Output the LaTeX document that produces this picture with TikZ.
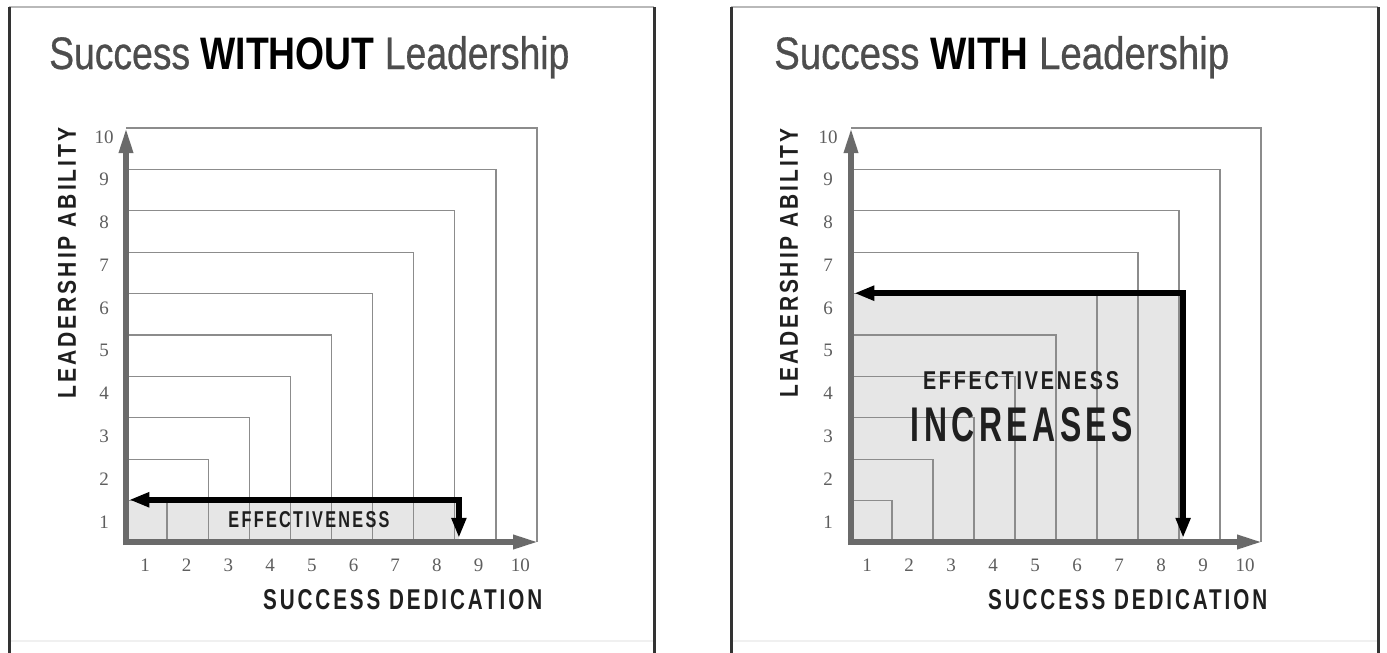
\documentclass[tikz,border=0pt]{standalone}
\usepackage{fontspec}
\usepackage{graphicx}
\setmainfont{Liberation Serif}
\newfontfamily\titlefont{Liberation Sans}
\newfontfamily\titlemed[FakeBold=0.7]{Liberation Sans}
\newfontfamily\labfont[LetterSpace=14]{Liberation Sans}
\usetikzlibrary{arrows.meta}
\definecolor{framecol}{HTML}{333333}
\definecolor{axisgray}{HTML}{6A6A6A}
\definecolor{sqgray}{HTML}{8C8C8C}
\definecolor{tickgray}{HTML}{5E5E5E}
\definecolor{titlegray}{HTML}{4D4D4D}
\definecolor{shadecol}{HTML}{E6E6E6}
\tikzset{
  panelside/.style={draw=framecol, line width=3pt},
  paneltop/.style={draw=gray!55, line width=1.5pt},
  panelbottom/.style={draw=gray!12, line width=1.5pt},
  sqline/.style={draw=sqgray, line width=1.3pt},
  axisline/.style={draw=axisgray, line width=6pt, -{Triangle[length=26pt,width=13pt]}},
  effarrow/.style={draw=black, line width=6pt, line join=miter,
     {Triangle[length=20pt,width=14pt]}-{Triangle[length=20pt,width=14pt]}},
  ticklab/.style={font=\fontsize{19}{19}\selectfont, text=tickgray, inner sep=0pt},
  biglab/.style={inner sep=0pt, text=black!88},
}
\begin{document}
\begin{tikzpicture}[x=1pt,y=-1pt]
\useasboundingbox (0,0) rectangle (1387,653);
\fill[white] (0,0) rectangle (1387,653);

% ---------- frames ----------
\draw[paneltop] (9,7) -- (654,7);
\draw[panelbottom] (9,641) -- (654,641);
\draw[panelside] (9,7) -- (9,653);
\draw[panelside] (654,7) -- (654,653);
\draw[paneltop] (731,7) -- (1378,7);
\draw[panelbottom] (731,641) -- (1378,641);
\draw[panelside] (731,7) -- (731,653);
\draw[panelside] (1378,7) -- (1378,653);

% ---------- titles ----------
\node[anchor=base west, inner sep=0pt] (t1) at (49,69)
  {\resizebox{520pt}{33pt}{\titlemed\color{titlegray}Success \textcolor{black}{\titlefont\bfseries WITHOUT} Leadership}};
\node[anchor=base west, inner sep=0pt] (t2) at (774,69)
  {\resizebox{455pt}{33pt}{\titlemed\color{titlegray}Success \textcolor{black}{\titlefont\bfseries WITH} Leadership}};

% ---------- left chart ----------
\begin{scope}[shift={(126pt,-542pt)}, x=41.1pt, y=41.4pt]
  \fill[shadecol] (0,0) rectangle (8.1,1.02);
  \foreach \n in {1,...,10} \draw[sqline] (0,\n) -- (\n,\n) -- (\n,0);
  \draw[axisline] (-0.075,0) -- (10.05,0);
  \draw[axisline] (0,-0.075) -- (0,10.02);
  \coordinate (lc) at (8.1,1.02);
  \coordinate (ll) at (0.08,1.02);
  \coordinate (ld) at (8.1,0.1);
  \draw[effarrow] (ll) -- (lc) -- (ld);
\end{scope}
\foreach \n in {1,...,10}{
  \node[ticklab] (ly\n) at (104,{522-42.8*(\n-1)}) {\n};
  \node[ticklab] (lx\n) at ({145+41.7*(\n-1)},565) {\n};
}
\node[biglab, anchor=west] (lxl) at (263,600)
  {\resizebox{279pt}{20pt}{\labfont\bfseries SUCCESS DEDICATION}};
\node[biglab, rotate=90] (lyl) at (67,263)
  {\resizebox{271pt}{18pt}{\labfont\bfseries LEADERSHIP ABILITY}};
\node[biglab] (leff) at (309,520)
  {\resizebox{161pt}{16pt}{\labfont\bfseries EFFECTIVENESS}};

% ---------- right chart ----------
\begin{scope}[shift={(851pt,-542pt)}, x=41.0pt, y=41.4pt]
  \fill[shadecol] (0,0) rectangle (8.1,6.01);
  \foreach \n in {1,...,10} \draw[sqline] (0,\n) -- (\n,\n) -- (\n,0);
  \draw[axisline] (-0.075,0) -- (10.05,0);
  \draw[axisline] (0,-0.075) -- (0,10.02);
  \coordinate (rc) at (8.1,6.01);
  \coordinate (rl) at (0.08,6.01);
  \coordinate (rd) at (8.1,0.1);
  \draw[effarrow] (rl) -- (rc) -- (rd);
\end{scope}
\foreach \n in {1,...,10}{
  \node[ticklab] (ry\n) at (828,{522-42.8*(\n-1)}) {\n};
  \node[ticklab] (rx\n) at ({867+42.0*(\n-1)},565) {\n};
}
\node[biglab, anchor=west] (rxl) at (988,600)
  {\resizebox{279pt}{20pt}{\labfont\bfseries SUCCESS DEDICATION}};
\node[biglab, rotate=90] (ryl) at (789,263)
  {\resizebox{269pt}{18pt}{\labfont\bfseries LEADERSHIP ABILITY}};
\node[biglab] (reff) at (1021,381)
  {\resizebox{196pt}{18pt}{\labfont\bfseries EFFECTIVENESS}};
\node[biglab] (rinc) at (1022,425)
  {\resizebox{222pt}{34pt}{\labfont\bfseries INCREASES}};
\end{tikzpicture}
\end{document}
